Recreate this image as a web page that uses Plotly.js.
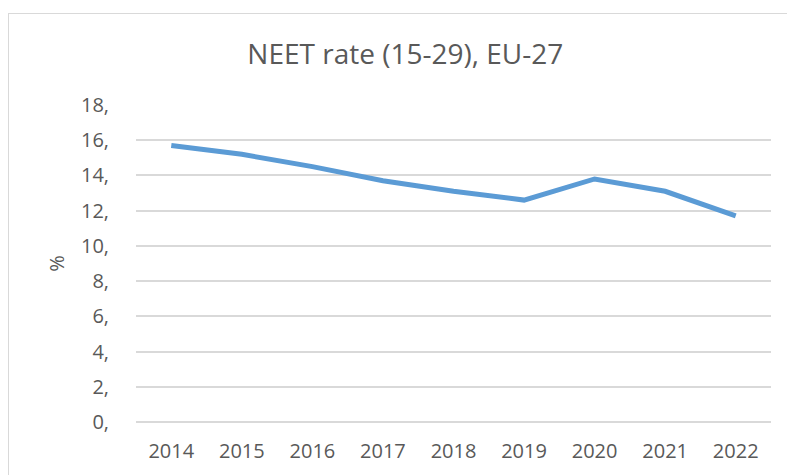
<!DOCTYPE html>
<html>
<head>
<meta charset="utf-8">
<script src="https://cdn.plot.ly/plotly-3.0.1.min.js"></script>
<style>
  html, body { margin: 0; padding: 0; background: #fff; }
  #wrap { position: relative; width: 787px; height: 475px; overflow: hidden; }
  #frame { position: absolute; left: 8px; top: 13px; width: 800px; height: 480px; border: 1px solid #d9d9d9; box-sizing: border-box; pointer-events: none; }
  #chart { position: absolute; left: 0; top: 0; width: 787px; height: 475px; }
</style>
</head>
<body>
<div id="wrap">
  <div id="frame"></div>
  <div id="chart"></div>
</div>
<script>
const years = ["2014", "2015", "2016", "2017", "2018", "2019", "2020", "2021", "2022"];
const neetRate = [15.7, 15.2, 14.5, 13.7, 13.1, 12.6, 13.8, 13.1, 11.7];
const yTickVals = [0, 2, 4, 6, 8, 10, 12, 14, 16, 18];
const yTickText = ["0,", "2,", "4,", "6,", "8,", "10,", "12,", "14,", "16,", "18,"];

const font = "Open Sans, Lato, sans-serif";
const textColor = "#595959";

const trace = {
  x: years,
  y: neetRate,
  type: "scatter",
  mode: "lines",
  line: { color: "#5B9BD5", width: 5, shape: "linear" },
  hoverinfo: "x+y"
};

const layout = {
  width: 787,
  height: 475,
  margin: { l: 136, r: 16, t: 105, b: 53 },
  paper_bgcolor: "rgba(0,0,0,0)",
  plot_bgcolor: "rgba(0,0,0,0)",
  showlegend: false,
  title: {
    text: "NEET rate (15-29), EU-27",
    font: { family: font, size: 28, color: textColor },
    x: 0.515,
    xanchor: "center",
    y: 0.885,
    yanchor: "middle"
  },
  xaxis: {
    type: "category",
    range: [-0.5, 8.5],
    showgrid: false,
    zeroline: false,
    showline: false,
    ticks: "outside",
    ticklen: 11,
    tickcolor: "rgba(0,0,0,0)",
    tickfont: { family: font, size: 20, color: textColor },
    fixedrange: true
  },
  yaxis: {
    range: [0, 18],
    tickvals: yTickVals,
    ticktext: yTickText,
    showgrid: true,
    gridcolor: "#d9d9d9",
    gridwidth: 1.5,
    zeroline: true,
    zerolinecolor: "#d9d9d9",
    zerolinewidth: 1.5,
    showline: false,
    ticks: "outside",
    ticklen: 22,
    tickcolor: "rgba(0,0,0,0)",
    tickfont: { family: font, size: 20, color: textColor },
    title: {
      text: "%",
      font: { family: font, size: 20, color: textColor },
      standoff: 10
    },
    fixedrange: true
  }
};

Plotly.newPlot("chart", [trace], layout, { displayModeBar: false, staticPlot: false });
</script>
</body>
</html>
